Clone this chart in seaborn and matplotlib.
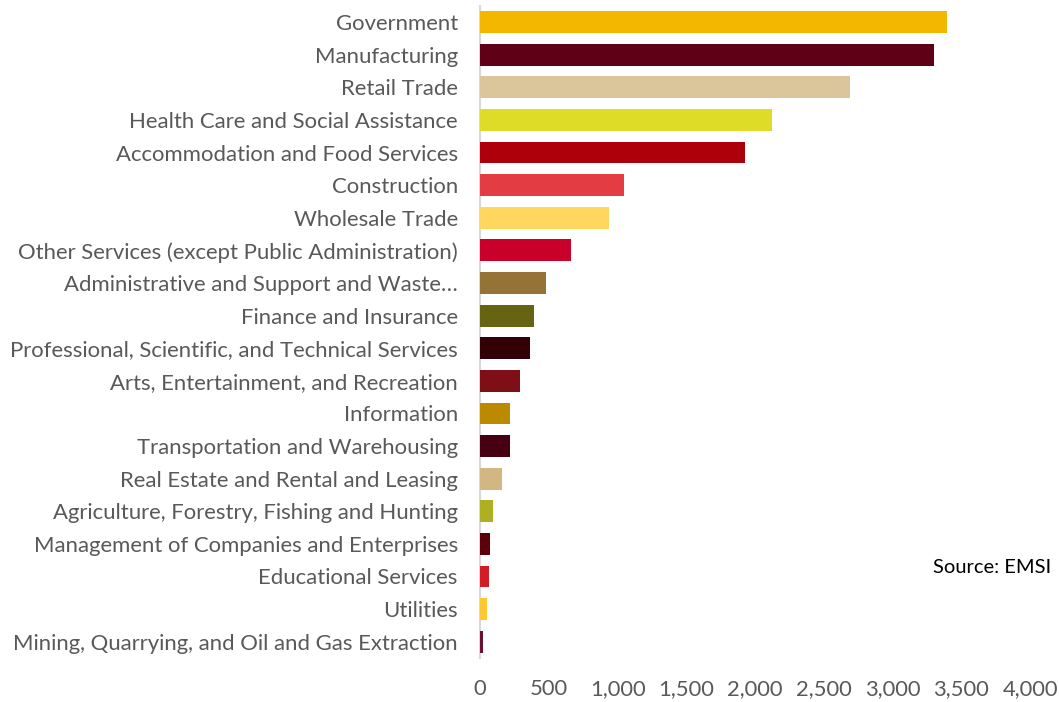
import matplotlib
matplotlib.use("Agg")
import matplotlib.pyplot as plt
import seaborn as sns
from matplotlib.ticker import FuncFormatter

industries = [
    "Government",
    "Manufacturing",
    "Retail Trade",
    "Health Care and Social Assistance",
    "Accommodation and Food Services",
    "Construction",
    "Wholesale Trade",
    "Other Services (except Public Administration)",
    "Administrative and Support and Waste\u2026",
    "Finance and Insurance",
    "Professional, Scientific, and Technical Services",
    "Arts, Entertainment, and Recreation",
    "Information",
    "Transportation and Warehousing",
    "Real Estate and Rental and Leasing",
    "Agriculture, Forestry, Fishing and Hunting",
    "Management of Companies and Enterprises",
    "Educational Services",
    "Utilities",
    "Mining, Quarrying, and Oil and Gas Extraction",
]
jobs = [3396, 3302, 2691, 2124, 1927, 1047, 938, 662, 480, 393,
        364, 291, 218, 218, 160, 95, 73, 65, 51, 20]
bar_colors = [
    "#F3B700", "#600016", "#DBC59A", "#DEDC27", "#AD000C",
    "#E33C43", "#FFD75E", "#C8002A", "#957336", "#666313",
    "#330005", "#7E0F17", "#BB8A00", "#470011", "#D2B783",
    "#AFAF22", "#5E0008", "#D21D24", "#FFC832", "#6E1030",
]
x_ticks = [0, 500, 1000, 1500, 2000, 2500, 3000, 3500, 4000]

sns.set_theme(style="white")
plt.rcParams["font.family"] = ["Lato", "DejaVu Sans"]

fig = plt.figure(figsize=(10.59, 7.02), dpi=100)
ax = fig.add_axes([0.4533, 0.0627, 0.5194, 0.929])

sns.barplot(x=jobs, y=industries, hue=industries, palette=bar_colors,
            legend=False, width=0.67, orient="h", saturation=1,
            linewidth=0, ax=ax)

ax.set_xlim(0, 4000)
ax.set_ylim(len(industries) - 0.5, -0.5)
ax.set_xticks(x_ticks)
ax.xaxis.set_major_formatter(FuncFormatter(lambda v, p: f"{int(v):,}"))
ax.tick_params(axis="x", length=0, pad=15, labelsize=15.8, labelcolor="#595959")
ax.tick_params(axis="y", length=0, pad=16, labelsize=15.9, labelcolor="#595959")
ax.set_xlabel("")
ax.set_ylabel("")

for side in ["top", "right", "bottom"]:
    ax.spines[side].set_visible(False)
ax.spines["left"].set_color("#D9D9D9")
ax.spines["left"].set_linewidth(1.5)
ax.spines["left"].set_zorder(0)

fig.text(0.993, 0.192, "Source: EMSI", ha="right", va="center",
         fontsize=14.5, color="#000000")

fig.savefig("out.png", dpi=100)
